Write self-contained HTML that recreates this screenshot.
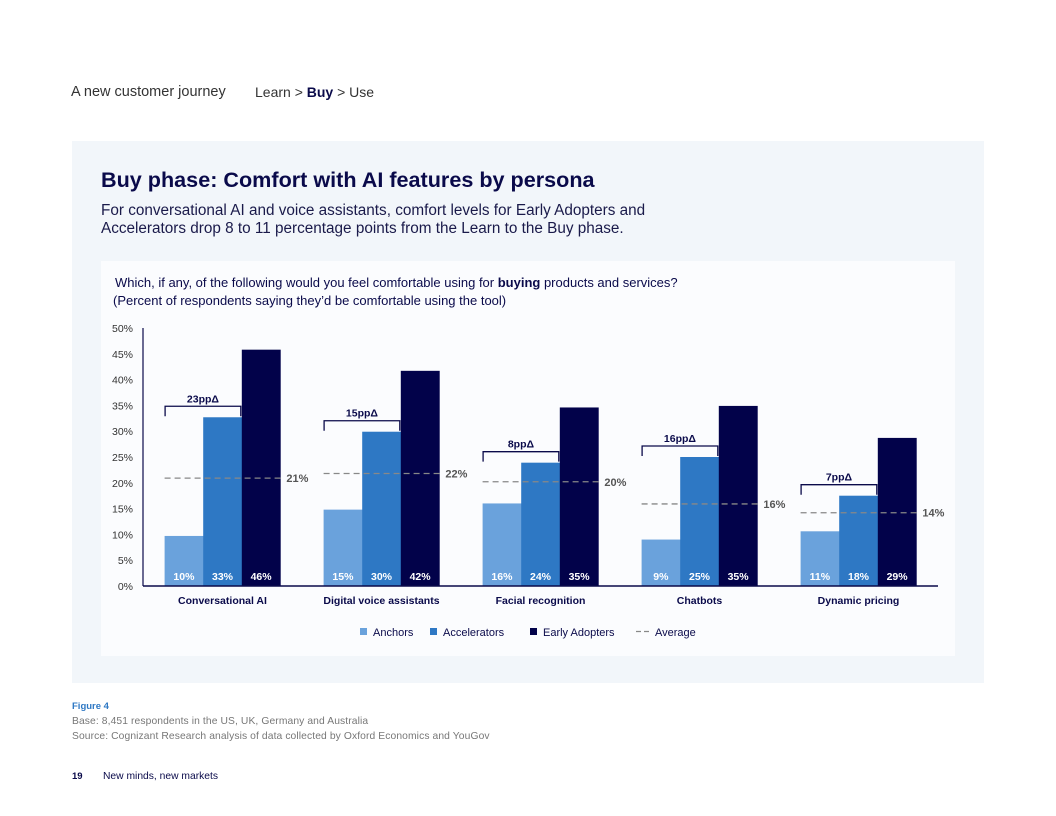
<!DOCTYPE html>
<html><head><meta charset="utf-8"><style>
body{margin:0;width:1056px;height:816px;background:#fff;font-family:"Liberation Sans",sans-serif;position:relative;overflow:hidden;color:#0a0a4a}
.abs{position:absolute;white-space:nowrap}
</style></head><body>
<div class="abs" style="left:71px;top:84px;font-size:14.5px;color:#333">A new customer journey</div>
<div class="abs" style="left:255px;top:84px;font-size:14px;color:#333">Learn &gt; <b style="color:#0a0a4a">Buy</b> &gt; Use</div>
<div class="abs" style="left:72px;top:141px;width:912px;height:542px;background:#f2f6fa"></div>
<div class="abs" style="left:101px;top:167px;font-size:21.6px;font-weight:bold;color:#0a0a4a">Buy phase: Comfort with AI features by persona</div>
<div class="abs" style="left:101px;top:202px;font-size:15.3px;line-height:18px;color:#1a1a4a">For conversational AI and voice assistants, comfort levels for Early Adopters and<br>Accelerators drop 8 to 11 percentage points from the Learn to the Buy phase.</div>
<div class="abs" style="left:101px;top:261px;width:854px;height:395px;background:#fbfcfe"></div>
<div class="abs" style="left:115px;top:274px;font-size:13px;line-height:18px;color:#0a0a4a">Which, if any, of the following would you feel comfortable using for <b>buying</b> products and services?<br><span style="margin-left:-2px">(Percent of respondents saying they’d be comfortable using the tool)</span></div>
<svg id="chart" width="1056" height="816" style="position:absolute;left:0;top:0" font-family="Liberation Sans, sans-serif"></svg>
<div class="abs" style="left:72px;top:701px;font-size:9.5px;font-weight:bold;color:#2e78c4">Figure 4</div>
<div class="abs" style="left:72px;top:716px;font-size:10.3px;color:#777;letter-spacing:0.1px">Base: 8,451 respondents in the US, UK, Germany and Australia</div>
<div class="abs" style="left:72px;top:731px;font-size:10.3px;color:#777;letter-spacing:0.1px">Source: Cognizant Research analysis of data collected by Oxford Economics and YouGov</div>
<div class="abs" style="left:72px;top:771px;font-size:9.5px;font-weight:bold;color:#0a0a4a">19</div>
<div class="abs" style="left:103px;top:771px;font-size:10.3px;color:#0a0a4a">New minds, new markets</div>
<script>
const categories=["Conversational AI","Digital voice assistants","Facial recognition","Chatbots","Dynamic pricing"];
const anchors=[9.7,14.8,16,9,10.6];
const accelerators=[32.7,29.9,23.9,25,17.5];
const earlyAdopters=[45.8,41.7,34.6,34.9,28.7];
const anchorLabels=["10%","15%","16%","9%","11%"];
const accelLabels=["33%","30%","24%","25%","18%"];
const eaLabels=["46%","42%","35%","35%","29%"];
const averages=[20.9,21.8,20.2,15.9,14.2];
const averageLabels=["21%","22%","20%","16%","14%"];
const deltaLabels=["23ppΔ","15ppΔ","8ppΔ","16ppΔ","7ppΔ"];
const yTicks=[0,5,10,15,20,25,30,35,40,45,50];
const NS="http://www.w3.org/2000/svg";
const svg=document.getElementById('chart');
const X0=143,X1=938,Y0=586,Y1=328,MAX=50;
const y=v=>Y0-(v/MAX)*(Y0-Y1);
const band=(X1-X0)/categories.length;
const cx=i=>X0+band*(i+0.5);
const BW=38.6;
function mk(t,a,txt){const e=document.createElementNS(NS,t);for(const k in a)e.setAttribute(k,a[k]);if(txt!=null)e.textContent=txt;svg.appendChild(e);return e;}
yTicks.forEach(t=>{
 const e=mk('text',{x:133,y:y(t)+4,'text-anchor':'end','font-size':10.5,fill:'#333'},t+'%');
 
 
});
const series=[[anchors,'#6aa2dc',anchorLabels,'anchors'],[accelerators,'#2e78c4',accelLabels,'accelerators'],[earlyAdopters,'#02024a',eaLabels,'early-adopters']];
categories.forEach((c,i)=>{
 const left=cx(i)-1.5*BW;
 series.forEach((s,j)=>{
  const v=s[0][i],x=left+j*BW;
  const r=mk('rect',{x:x,y:y(v),width:BW+0.3,height:Y0-y(v),fill:s[1]});
  
  
  const t=mk('text',{x:x+BW/2,y:Y0-6,'text-anchor':'middle','font-size':10.5,'font-weight':'bold',fill:'#fff'},s[2][i]);
  
  
 });
 const ay=y(averages[i]);
 const al=mk('line',{x1:left,x2:left+3*BW+3,y1:ay,y2:ay,stroke:'#888','stroke-width':1.3,'stroke-dasharray':'6,4'});
 
 
 const at=mk('text',{x:left+3*BW+6,y:ay+4,'font-size':11,'font-weight':'bold',fill:'#555'},averageLabels[i]);
 
 
 const top=y(accelerators[i])-11;
 const bx1=left+0.5,bx2=left+2*BW-1;
 const b=mk('path',{d:`M${bx1},${top+10} V${top} H${bx2} V${y(accelerators[i])-1}`,fill:'none',stroke:'#0a0a4a','stroke-width':1.3});
 
 
 const dt=mk('text',{x:(bx1+bx2)/2,y:top-4,'text-anchor':'middle','font-size':10.5,'font-weight':'bold',fill:'#0a0a4a'},deltaLabels[i]);
 
 
 const ct=mk('text',{x:cx(i),y:604,'text-anchor':'middle','font-size':10.5,'font-weight':'bold',fill:'#0a0a4a'},c);
 
 
});
const ya=mk('line',{x1:X0,x2:X0,y1:Y1,y2:Y0,stroke:'#0a0a4a','stroke-width':1.2});


const xa=mk('line',{x1:X0,x2:X1,y1:Y0,y2:Y0,stroke:'#0a0a4a','stroke-width':1.5});


const legend=[['Anchors','#6aa2dc',360],['Accelerators','#2e78c4',430],['Early Adopters','#02024a',530]];
legend.forEach(l=>{
 const r=mk('rect',{x:l[2],y:628,width:7,height:7,fill:l[1]});
 
 
 const t=mk('text',{x:l[2]+13,y:636,'font-size':11,fill:'#0a0a4a'},l[0]);
 
 
});
const ld=mk('line',{x1:636,x2:651,y1:631.5,y2:631.5,stroke:'#888','stroke-width':1.2,'stroke-dasharray':'5,3'});


const lt=mk('text',{x:655,y:636,'font-size':11,fill:'#0a0a4a'},'Average');


</script>
</body></html>
